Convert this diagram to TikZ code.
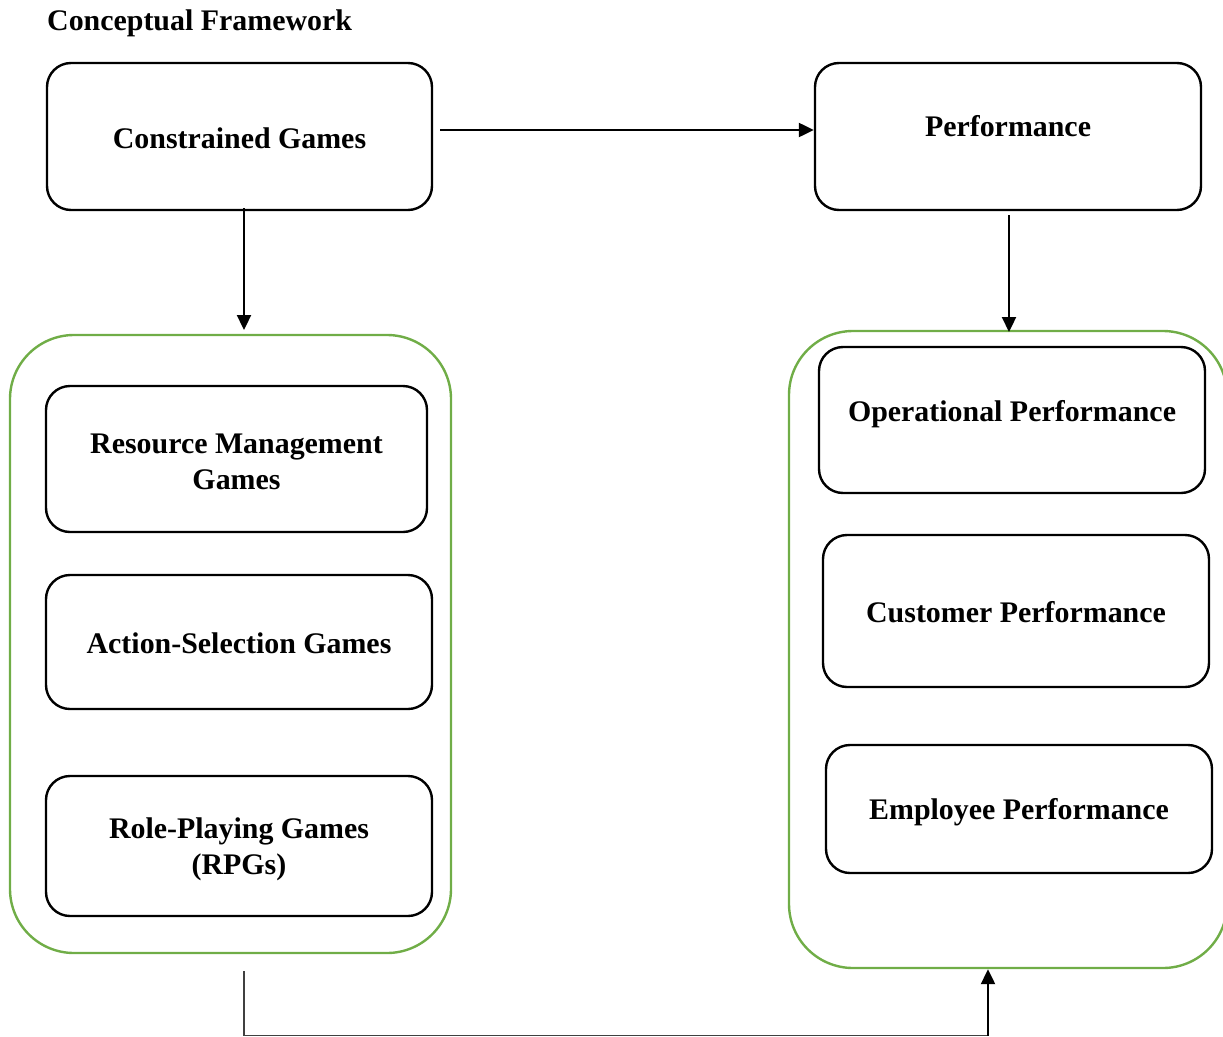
\documentclass[tikz,border=0pt]{standalone}
\usepackage{fontspec}
\setmainfont{Liberation Serif}
\usetikzlibrary{arrows.meta}
\definecolor{grpgreen}{HTML}{70AD47}
\begin{document}
\begin{tikzpicture}[x=1pt,y=-1pt,
  box/.style={draw=black, line width=2.4pt, rounded corners=24pt, inner sep=0pt},
  group/.style={draw=grpgreen, line width=2.4pt, rounded corners=64pt, inner sep=0pt},
  lbl/.style={font=\fontsize{29.9}{36}\selectfont\bfseries, align=center, inner sep=0pt},
  arr/.style={line width=2.3pt, -{Triangle[length=15pt,width=14pt]}},
  link/.style={line width=1.4pt, draw=black!75}]
\useasboundingbox (0,0) rectangle (1223,1036);

% heading
\node[lbl, anchor=base west] (title) at (47,30) {Conceptual Framework};

% top row
\node[box, minimum width=385, minimum height=147] (cg) at (239.5,136.5) {};
\node[lbl] (cgt) at (239.5,138) {Constrained Games};
\node[box, minimum width=386, minimum height=147] (pf) at (1008,136.5) {};
\node[lbl] (pft) at (1008,126.5) {Performance};

% group frames
\node[group, minimum width=441, minimum height=618] (lg) at (230.5,644) {};
\node[group, minimum width=438, minimum height=637] (rg) at (1008,649.5) {};

% game types
\node[box, minimum width=381, minimum height=146] (rm) at (236.5,459) {};
\node[lbl] (rmt) at (236.5,462) {Resource Management\\Games};
\node[box, minimum width=386, minimum height=134] (as) at (239,642) {};
\node[lbl] (ast) at (239,643) {Action-Selection Games};
\node[box, minimum width=386, minimum height=140] (rp) at (239,846) {};
\node[lbl] (rpt) at (239,849) {Role-Playing Games\\(RPGs)};

% performance types
\node[box, minimum width=386, minimum height=146] (op) at (1012,420) {};
\node[lbl] (opt) at (1012,414) {Operational Performance};
\node[box, minimum width=386, minimum height=152] (cp) at (1016,611) {};
\node[lbl] (cpt) at (1016,612) {Customer Performance};
\node[box, minimum width=386, minimum height=128] (ep) at (1019,809) {};
\node[lbl] (ept) at (1019,812) {Employee Performance};

% connectors
\coordinate (a1) at (440,130);
\draw[arr] (a1) -- (a1 -| pf.west);
\coordinate (a2) at (244,208);
\draw[arr] (a2) -- (244,330);
\coordinate (a3) at (1009,215);
\coordinate (a3e) at (1009,332);
\draw[arr] (a3) -- (a3e);
\coordinate (b1) at (244,971);
\coordinate (b2) at (244,1035.6);
\coordinate (b3) at (988,1035.6);
\draw[link] (b1) -- (b2) -- (b3);
\draw[arr] (b3) -- (b3 |- rg.south);
\end{tikzpicture}
\end{document}
